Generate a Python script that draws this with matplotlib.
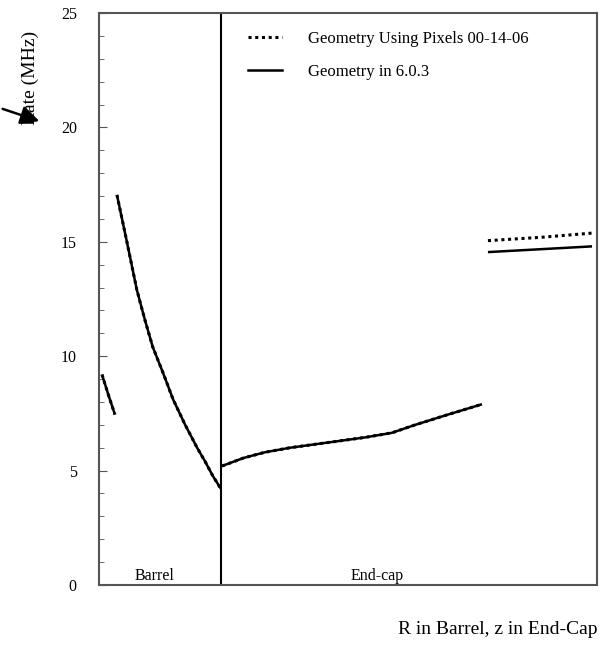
import matplotlib.pyplot as plt

plt.rcParams['font.family'] = ['Liberation Serif', 'DejaVu Serif']

# Data (x is an arbitrary position along R / z, 0-100)
inner_x = [0.6, 1.9, 3.2]
inner_y = [9.2, 8.3, 7.45]

barrel_x = [3.6, 5.6, 7.6, 9.2, 10.8, 12.9, 14.9, 17.3, 19.7, 21.3, 22.9, 24.5]
barrel_y = [17.05, 15.0, 12.9, 11.6, 10.4, 9.25, 8.1, 7.0, 6.0, 5.4, 4.75, 4.2]

endcap_x = [24.7, 29.0, 33.3, 38.4, 43.4, 48.4, 53.4, 58.8, 63.5, 70.1, 76.9]
endcap_y = [5.2, 5.55, 5.8, 6.0, 6.15, 6.3, 6.45, 6.65, 7.0, 7.45, 7.9]

outer_x = [78.1, 89.0, 99.0]
outer_old = [14.55, 14.68, 14.8]
outer_pix = [15.05, 15.2, 15.38]

divider_x = 24.5

fig = plt.figure(figsize=(6.04, 6.49), dpi=100)
ax = fig.add_axes([99/604, 1-585/649, 498/604, 572/649])

# Geometry in 6.0.3 (solid)
for xs, ys in [(inner_x, inner_y), (barrel_x, barrel_y), (endcap_x, endcap_y), (outer_x, outer_old)]:
    ax.plot(xs, ys, color='black', lw=1.8, solid_capstyle='butt')

# Geometry using pixels (dotted)
for xs, ys in [(inner_x, inner_y), (barrel_x, barrel_y), (endcap_x, endcap_y), (outer_x, outer_pix)]:
    ax.plot(xs, ys, color='black', lw=2.2, linestyle=(0, (1, 1.2)))

ax.plot([], [], color='black', lw=2.2, linestyle=(0, (1, 1.2)), label='Geometry Using Pixels 00-14-06')
ax.plot([], [], color='black', lw=1.8, label='Geometry in 6.0.3')

ax.axvline(divider_x, color='black', lw=1.5)

ax.set_xlim(0, 100)
ax.set_ylim(0, 25)
ax.set_yticks([0, 5, 10, 15, 20, 25])
ax.set_yticks(range(0, 26), minor=True)
ax.set_xticks([])
ax.tick_params(axis='y', which='major', direction='in', length=6, pad=16, labelsize=11.5, color='#555')
ax.tick_params(axis='y', which='minor', direction='in', length=3.5, color='#555')
ax.tick_params(axis='y', which='both', right=False)
for s in ax.spines.values():
    s.set_color('#555')
    s.set_linewidth(1.5)

ax.text(11.2, 0.05, 'Barrel', ha='center', va='bottom', fontsize=11.5)
ax.text(55.8, 0.05, 'End-cap', ha='center', va='bottom', fontsize=11.5)

ax.legend(loc='upper left', bbox_to_anchor=(0.27, 0.995), frameon=False, fontsize=12,
          handlelength=2.0, handletextpad=1.6, labelspacing=1.0)

fig.text(30/604, 1-78/649, 'Rate (MHz)', rotation=90, ha='center', va='center', fontsize=14)
fig.text(597/604, 1-630/649, 'R in Barrel, z in End-Cap', ha='right', va='center', fontsize=14)

fig.add_artist(plt.Annotation('', xy=(42/604, 1-122/649), xytext=(0, 1-108/649),
                              xycoords='figure fraction', textcoords='figure fraction',
                              arrowprops=dict(arrowstyle='-|>', mutation_scale=28, lw=1.8, color='black')))

fig.savefig('out.png', dpi=100)
